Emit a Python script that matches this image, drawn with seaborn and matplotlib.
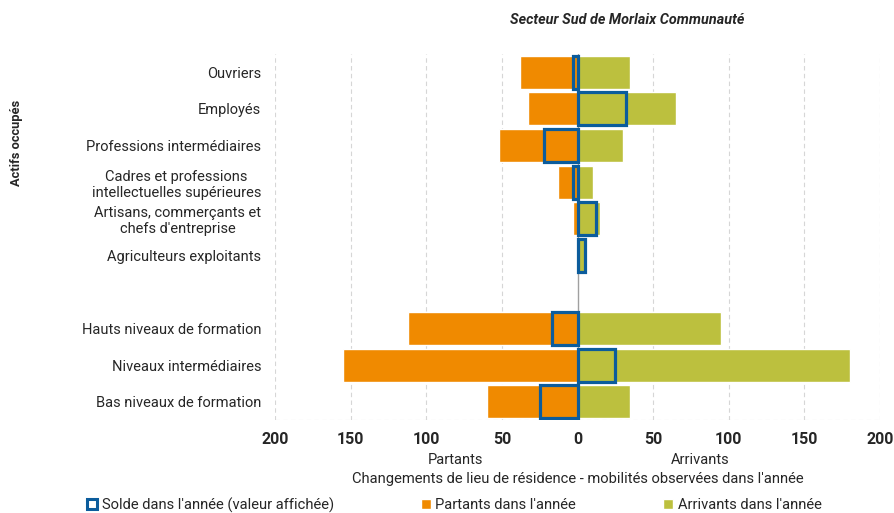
import matplotlib
matplotlib.use("Agg")
import matplotlib.pyplot as plt
from matplotlib.patches import Patch
import numpy as np
import pandas as pd
import seaborn as sns

# data
categories = ["Ouvriers", "Employés", "Professions intermédiaires",
              "Cadres et professions\nintellectuelles supérieures",
              "Artisans, commerçants et\nchefs d'entreprise",
              "Agriculteurs exploitants",
              "Hauts niveaux de formation", "Niveaux intermédiaires",
              "Bas niveaux de formation"]
partants = [38, 33, 52, 13, 3, 0, 112, 155, 60]
arrivants = [35, 65, 30, 10, 15, 5, 95, 180, 35]
solde = [-3, 32, -22, -3, 12, 5, -17, 25, -25]

order = categories[:6] + [" "] + categories[6:]
ticks = [-200, -150, -100, -50, 0, 50, 100, 150, 200]

orange = "#F08A00"
green = "#BCC03E"
blue = "#0B5C9C"

df = pd.DataFrame({"cat": categories,
                   "partants": [-p for p in partants],
                   "arrivants": arrivants,
                   "solde": solde})

sns.set_theme(style="white")
plt.rcParams["font.family"] = ["Roboto", "DejaVu Sans"]

fig = plt.figure(figsize=(8.94, 5.13), dpi=100)
ax = fig.add_axes([275 / 894, 1 - 420 / 513, 605 / 894, 366 / 513])

for x in ticks:
    if x != 0:
        ax.axvline(x, color="#d6d6d6", lw=0.8, ls=(0, (4, 3)), zorder=0)
ax.axhline(len(order) - 0.5, color="#d6d6d6", lw=0.8, ls=(0, (4, 3)), zorder=0)

sns.barplot(data=df, x="partants", y="cat", order=order, color=orange,
            saturation=1, width=0.9, orient="h", ax=ax, zorder=2)
sns.barplot(data=df, x="arrivants", y="cat", order=order, color=green,
            saturation=1, width=0.9, orient="h", ax=ax, zorder=2)
ax.axvline(0, color="#a0a0a0", lw=1, zorder=3)
sns.barplot(data=df, x="solde", y="cat", order=order, color=blue, fill=False,
            linewidth=2.3, width=0.9, orient="h", ax=ax, zorder=4)

ax.set_xlim(-200, 200)
ax.set_ylim(len(order) - 0.5, -0.5)
ax.set_xticks(ticks)
ax.set_xticklabels([str(abs(t)) for t in ticks], fontweight="bold", fontsize=11.5)
ax.tick_params(axis="both", length=0)
ax.tick_params(axis="y", labelsize=10.5, pad=10)
ax.tick_params(axis="x", pad=9)
for lab in ax.get_yticklabels():
    lab.set_multialignment("center")
ax.set_xlabel("")
ax.set_ylabel("")
for s in ax.spines.values():
    s.set_visible(False)

fig.text(627 / 894, 1 - 20 / 513, "Secteur Sud de Morlaix Communauté",
         ha="center", va="center", fontsize=10.4, fontweight="bold", fontstyle="italic")
fig.text(17 / 894, 1 - 143 / 513, "Actifs occupés", rotation=90,
         ha="center", va="center", fontsize=9.3, fontweight="bold")
fig.text(455 / 894, 1 - 460 / 513, "Partants", ha="center", va="center", fontsize=10.5)
fig.text(700 / 894, 1 - 460 / 513, "Arrivants", ha="center", va="center", fontsize=10.5)
fig.text(578 / 894, 1 - 479 / 513,
         "Changements de lieu de résidence - mobilités observées dans l'année",
         ha="center", va="center", fontsize=10.6)

handles = [Patch(facecolor="white", edgecolor=blue, linewidth=2.2),
           Patch(facecolor=orange), Patch(facecolor=green)]
labels = ["Solde dans l'année (valeur affichée)", "Partants dans l'année",
          "Arrivants dans l'année"]
fig.legend(handles, labels, loc="center left", bbox_to_anchor=(87 / 894, 1 - 505 / 513),
           ncol=3, frameon=False, fontsize=10.6, handlelength=0.7, handleheight=0.7,
           handletextpad=0.3, columnspacing=5.9, borderpad=0, borderaxespad=0)

fig.savefig("out.png", dpi=100)
